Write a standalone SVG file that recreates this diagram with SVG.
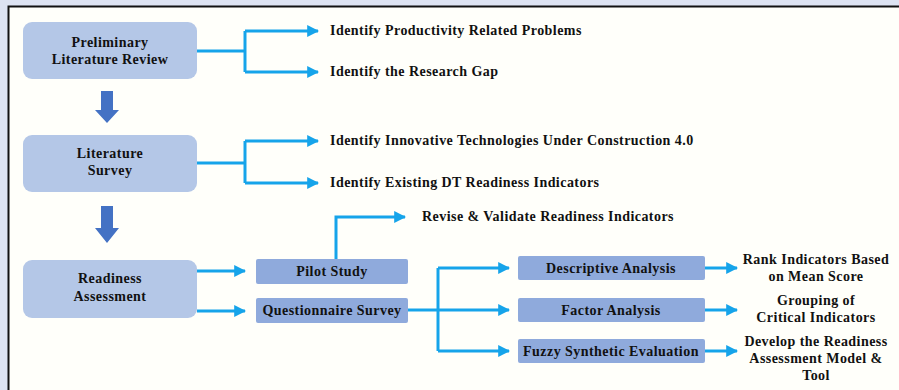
<svg xmlns="http://www.w3.org/2000/svg" width="899" height="390" viewBox="0 0 899 390">
<defs>
<style>
.t{font-family:"Liberation Serif","Times New Roman",serif;font-weight:bold;font-size:14px;letter-spacing:0.45px;fill:#111}
.c{text-anchor:middle}
.nb{fill:#b4c7e7}
.db{fill:#8faadc}
.ln{fill:none;stroke:#16a4ea;stroke-width:3}
.da{fill:#4472c4}
</style>
<marker id="ah" viewBox="0 0 10 10" refX="9" refY="5" markerWidth="4" markerHeight="4" markerUnits="strokeWidth" orient="auto">
<path d="M0,0 L10,5 L0,10 z" fill="#16a4ea"/>
</marker>
</defs>
<rect x="0" y="0" width="899" height="390" fill="#dde3f2"/>
<rect x="8" y="6" width="891" height="384" fill="#fffffa"/>
<path d="M8.5,390 V6.5 H899" fill="none" stroke="#111" stroke-width="2"/>

<g id="prelim">
<rect class="nb" x="23" y="22" width="174" height="57" rx="9"/>
<text class="t c" x="110" y="47">Preliminary</text>
<text class="t c" x="110" y="64">Literature Review</text>
</g>
<g id="arrow1"><path class="da" d="M101,91 H113 V110 H119 L107,123 L95,110 H101 z"/></g>
<g id="litsurvey">
<rect class="nb" x="23" y="135" width="174" height="57" rx="9"/>
<text class="t c" x="110" y="158">Literature</text>
<text class="t c" x="110" y="175">Survey</text>
</g>
<g id="arrow2"><path class="da" d="M101,206 H113 V228 H119 L107,243 L95,228 H101 z"/></g>
<g id="readiness">
<rect class="nb" x="23" y="260" width="174" height="58" rx="9"/>
<text class="t c" x="110" y="283">Readiness</text>
<text class="t c" x="110" y="301">Assessment</text>
</g>

<g id="t1"><text class="t" x="330" y="35">Identify Productivity Related Problems</text></g>
<g id="t2"><text class="t" x="330" y="76">Identify the Research Gap</text></g>
<g id="t3"><text class="t" x="330" y="145">Identify Innovative Technologies Under Construction 4.0</text></g>
<g id="t4"><text class="t" x="330" y="187">Identify Existing DT Readiness Indicators</text></g>
<g id="t5"><text class="t" x="422" y="221">Revise &amp; Validate Readiness Indicators</text></g>

<g id="pilot">
<rect class="db" x="256" y="259" width="152" height="25" rx="2"/>
<text class="t c" x="332" y="276">Pilot Study</text>
</g>
<g id="questionnaire">
<rect class="db" x="256" y="298" width="152" height="25" rx="2"/>
<text class="t c" x="332" y="315">Questionnaire Survey</text>
</g>

<g id="descriptive">
<rect class="db" x="518" y="256" width="187" height="24" rx="2"/>
<text class="t c" x="611" y="273">Descriptive Analysis</text>
</g>
<g id="factor">
<rect class="db" x="518" y="298" width="187" height="24" rx="2"/>
<text class="t c" x="611" y="315">Factor Analysis</text>
</g>
<g id="fuzzy">
<rect class="db" x="518" y="339" width="187" height="24" rx="2"/>
<text class="t c" x="611" y="356">Fuzzy Synthetic Evaluation</text>
</g>

<g id="r1">
<text class="t c" x="816" y="264">Rank Indicators Based</text>
<text class="t c" x="816" y="281">on Mean Score</text>
</g>
<g id="r2">
<text class="t c" x="816" y="305">Grouping of</text>
<text class="t c" x="816" y="322">Critical Indicators</text>
</g>
<g id="r3">
<text class="t c" x="816" y="346">Develop the Readiness</text>
<text class="t c" x="816" y="363">Assessment Model &amp;</text>
<text class="t c" x="816" y="380">Tool</text>
</g>

<g id="connectors">
<path class="ln" d="M197,51 H245"/>
<path class="ln" d="M245,31 V72"/>
<path class="ln" d="M245,31 H318" marker-end="url(#ah)"/>
<path class="ln" d="M245,72 H318" marker-end="url(#ah)"/>
<path class="ln" d="M197,163 H245"/>
<path class="ln" d="M245,141 V183"/>
<path class="ln" d="M245,141 H318" marker-end="url(#ah)"/>
<path class="ln" d="M245,183 H318" marker-end="url(#ah)"/>
<path class="ln" d="M197,271 H245" marker-end="url(#ah)"/>
<path class="ln" d="M197,311 H245" marker-end="url(#ah)"/>
<path class="ln" d="M336,259 V217 H405" marker-end="url(#ah)"/>
<path class="ln" d="M408,310 H438"/>
<path class="ln" d="M438,268 V351"/>
<path class="ln" d="M438,268 H509" marker-end="url(#ah)"/>
<path class="ln" d="M438,310 H509" marker-end="url(#ah)"/>
<path class="ln" d="M438,351 H509" marker-end="url(#ah)"/>
<path class="ln" d="M705,268 H737" marker-end="url(#ah)"/>
<path class="ln" d="M705,310 H737" marker-end="url(#ah)"/>
<path class="ln" d="M705,351 H737" marker-end="url(#ah)"/>
</g>
</svg>
